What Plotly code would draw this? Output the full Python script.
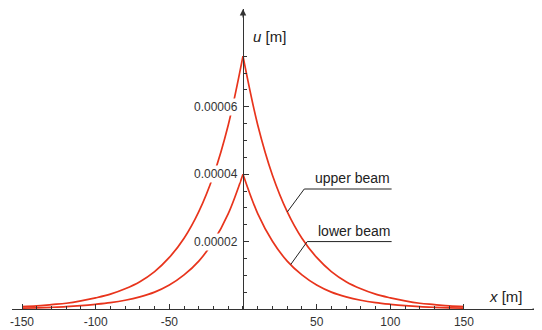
import plotly.graph_objects as go

# ---- data (u in metres) ----
x_half = [0, 10, 20, 30, 40, 50, 60, 70, 80, 90, 100, 110, 120, 130, 140, 150]
upper_beam = [7.50e-5, 5.46e-5, 3.97e-5, 2.89e-5, 2.10e-5, 1.53e-5, 1.11e-5, 0.81e-5,
              0.60e-5, 0.44e-5, 0.33e-5, 0.24e-5, 0.17e-5, 0.13e-5, 0.09e-5, 0.07e-5]
lower_beam = [4.00e-5, 2.83e-5, 2.01e-5, 1.42e-5, 1.01e-5, 0.71e-5, 0.50e-5, 0.36e-5,
              0.26e-5, 0.19e-5, 0.14e-5, 0.10e-5, 0.07e-5, 0.05e-5, 0.035e-5, 0.025e-5]

x_ticks = [-150, -100, -50, 50, 100, 150]
x_minor = list(range(-150, 151, 10))
y_ticks = [0.00002, 0.00004, 0.00006]
y_tick_labels = ["0.00002", "0.00004", "0.00006"]
y_minor = [i * 0.000005 for i in range(1, 16)]

# leader lines for the curve labels: (curve point, elbow, end)
upper_leader_x = [30.1, 41.6, 100.9]
upper_leader_y = [2.88e-5, 3.56e-5, 3.56e-5]
lower_leader_x = [32.4, 43.6, 100.9]
lower_leader_y = [1.32e-5, 2.00e-5, 2.00e-5]

RED = "#e8341c"
AX = "#333333"
FONT = "Liberation Sans, Arial, sans-serif"

X_RANGE = [-156.8, 202.3]
Y_RANGE = [0, 8.90e-5]

fig = go.Figure()

def add_curve(vals):
    left_x = [-v for v in reversed(x_half)]
    left_y = list(reversed(vals))
    for xs, ys in ((left_x, left_y), (x_half, vals)):
        fig.add_trace(go.Scatter(x=xs, y=ys, mode="lines",
                                 line=dict(color=RED, width=1.7, shape="spline", smoothing=1.0),
                                 hoverinfo="skip", showlegend=False))

add_curve(upper_beam)
add_curve(lower_beam)

for lx, ly in ((upper_leader_x, upper_leader_y), (lower_leader_x, lower_leader_y)):
    fig.add_trace(go.Scatter(x=lx, y=ly, mode="lines", line=dict(color="#222222", width=1),
                             hoverinfo="skip", showlegend=False))

# curve labels
fig.add_annotation(x=upper_leader_x[2], y=upper_leader_y[2], text="upper beam", showarrow=False,
                   xanchor="right", yanchor="bottom", yshift=1,
                   font=dict(family=FONT, size=14, color="#222222"))
fig.add_annotation(x=lower_leader_x[2], y=lower_leader_y[2], text="lower beam", showarrow=False,
                   xanchor="right", yanchor="bottom", yshift=1,
                   font=dict(family=FONT, size=14, color="#222222"))

# y tick labels with white background (hide curves behind them)
for v, t in zip(y_ticks, y_tick_labels):
    fig.add_annotation(x=0, y=v, text=t, showarrow=False, xanchor="right", yanchor="middle",
                       xshift=-3, bgcolor="white", borderpad=1,
                       font=dict(family=FONT, size=12, color=AX))

# axis labels
fig.add_annotation(x=5.4, y=8.09e-5, text="<i>u</i> [m]", showarrow=False, xanchor="left",
                   yanchor="middle", font=dict(family=FONT, size=15, color="#222222"))
fig.add_annotation(x=165.6, y=3.7e-6, text="<i>x</i> [m]", showarrow=False, xanchor="left",
                   yanchor="middle", font=dict(family=FONT, size=15, color="#222222"))

# arrow heads
fig.add_annotation(x=X_RANGE[1], y=0, ax=-10, ay=0, text="", showarrow=True,
                   arrowhead=2, arrowsize=1.3, arrowwidth=1, arrowcolor=AX)
fig.add_annotation(x=0, y=Y_RANGE[1], ax=0, ay=10, text="", showarrow=True,
                   arrowhead=2, arrowsize=1.3, arrowwidth=1, arrowcolor=AX)

# the page adds an 8px body margin, so the figure is sized/margined to compensate
fig.update_layout(
    width=534, height=322,
    margin=dict(l=4, r=1, t=1, b=17),
    paper_bgcolor="white", plot_bgcolor="white",
    showlegend=False,
    xaxis=dict(range=X_RANGE, showgrid=False, zeroline=False, showline=True,
               linecolor=AX, linewidth=1, tickmode="array", tickvals=x_ticks,
               ticktext=[str(v) for v in x_ticks], ticks="inside", ticklen=5,
               tickcolor=AX, tickwidth=1, ticklabelstandoff=2,
               tickfont=dict(family=FONT, size=12, color=AX),
               minor=dict(tickmode="array", tickvals=x_minor, ticks="inside",
                          ticklen=3, tickcolor=AX, tickwidth=1, showgrid=False),
               fixedrange=True),
    yaxis=dict(range=Y_RANGE, showgrid=False, zeroline=False, showline=True,
               linecolor=AX, linewidth=1, anchor="free",
               position=(0 - X_RANGE[0]) / (X_RANGE[1] - X_RANGE[0]),
               tickmode="array", tickvals=y_ticks, ticks="inside", ticklen=5,
               tickcolor=AX, tickwidth=1, showticklabels=False,
               minor=dict(tickmode="array", tickvals=y_minor, ticks="inside",
                          ticklen=3, tickcolor=AX, tickwidth=1, showgrid=False),
               fixedrange=True),
)

fig.write_html("out.html")
